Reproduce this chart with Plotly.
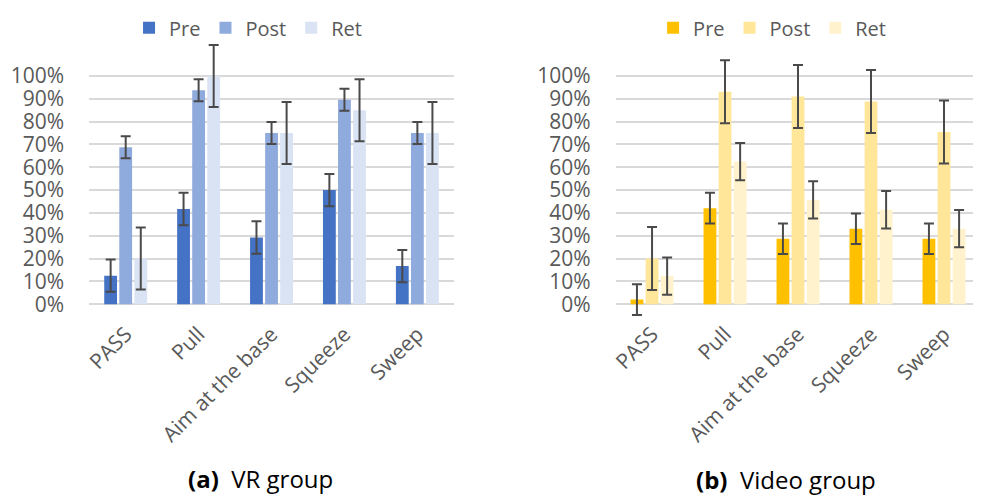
import plotly.graph_objects as go

categories = ["PASS", "Pull", "Aim at the base", "Squeeze", "Sweep"]

vr_pre = [0.125, 0.417, 0.292, 0.50, 0.167]
vr_post = [0.6875, 0.9375, 0.75, 0.896, 0.75]
vr_ret = [0.20, 1.00, 0.75, 0.85, 0.75]
vr_pre_err = [0.071, 0.071, 0.071, 0.071, 0.071]
vr_post_err = [0.048, 0.048, 0.048, 0.048, 0.048]
vr_ret_err = [0.136, 0.136, 0.136, 0.136, 0.136]

vid_pre = [0.02, 0.421, 0.287, 0.331, 0.287]
vid_post = [0.20, 0.931, 0.910, 0.888, 0.755]
vid_ret = [0.123, 0.625, 0.457, 0.414, 0.331]
vid_pre_err = [0.067, 0.067, 0.067, 0.067, 0.067]
vid_post_err = [0.138, 0.138, 0.138, 0.138, 0.138]
vid_ret_err = [0.082, 0.082, 0.082, 0.082, 0.082]

series_names = ["Pre", "Post", "Ret"]
blue = ["#4472C4", "#8FAADC", "#DAE3F3"]
gold = ["#FFC000", "#FFE699", "#FFF2CC"]
ERR_COLOR = "#4a4a4a"
FONT = "Open Sans"
TXT = "#595959"

fig = go.Figure()

def add_group(vals, errs, colors, xa, ya, legend):
    for name, v, e, c in zip(series_names, vals, errs, colors):
        fig.add_trace(go.Bar(
            x=categories, y=v, name=name, marker=dict(color=c, line=dict(width=0)),
            error_y=dict(type="data", array=e, visible=True, color=ERR_COLOR,
                         thickness=2, width=5),
            xaxis=xa, yaxis=ya, legend=legend,
        ))

add_group([vr_pre, vr_post, vr_ret], [vr_pre_err, vr_post_err, vr_ret_err], blue, "x", "y", "legend")
add_group([vid_pre, vid_post, vid_ret], [vid_pre_err, vid_post_err, vid_ret_err], gold, "x2", "y2", "legend2")

tickvals = [i / 10 for i in range(11)]
yax = dict(range=[-0.06, 1.16], tickvals=tickvals, tickformat=".0%",
           showgrid=True, gridcolor="#D9D9D9", gridwidth=1.5, zeroline=False,
           showline=False, ticks="", automargin=False, ticklabelstandoff=24,
           tickfont=dict(family=FONT, size=21, color=TXT),
           domain=[0.3711, 0.9510], fixedrange=True)
xax = dict(tickangle=-45, ticks="", showline=False, showgrid=False, automargin=False,
           tickfont=dict(family=FONT, size=21, color=TXT), ticklabelstandoff=-1)

fig.update_layout(
    width=973, height=488,
    margin=dict(l=0, r=0, t=0, b=0),
    paper_bgcolor="white", plot_bgcolor="white",
    barmode="group", bargap=0.38, bargroupgap=0.15,
    showlegend=True,
    xaxis=dict(domain=[0.0835, 0.4582], anchor="y", range=[-0.5, 4.5], **xax),
    yaxis=dict(anchor="x", **yax),
    xaxis2=dict(domain=[0.6244, 0.9995], anchor="y2", range=[-0.5, 4.5], **xax),
    yaxis2=dict(anchor="x2", **yax),
    legend=dict(orientation="h", x=0.1244, y=0.9754, xanchor="left", yanchor="middle",
                font=dict(family=FONT, size=20, color=TXT), bgcolor="rgba(0,0,0,0)",
                itemclick=False),
    legend2=dict(orientation="h", x=0.663, y=0.9754, xanchor="left", yanchor="middle",
                 font=dict(family=FONT, size=20, color=TXT), bgcolor="rgba(0,0,0,0)",
                 itemclick=False),
    annotations=[
        dict(text="<b>(a)</b>  VR group", x=0.259, y=1 - 470 / 488, xref="paper", yref="paper",
             showarrow=False, xanchor="center", yanchor="middle",
             font=dict(family=FONT, size=24, color="#000000")),
        dict(text="<b>(b)</b>  Video group", x=0.7996, y=1 - 471 / 488, xref="paper", yref="paper",
             showarrow=False, xanchor="center", yanchor="middle",
             font=dict(family=FONT, size=24, color="#000000")),
    ],
)

fig.write_html("out.html")
